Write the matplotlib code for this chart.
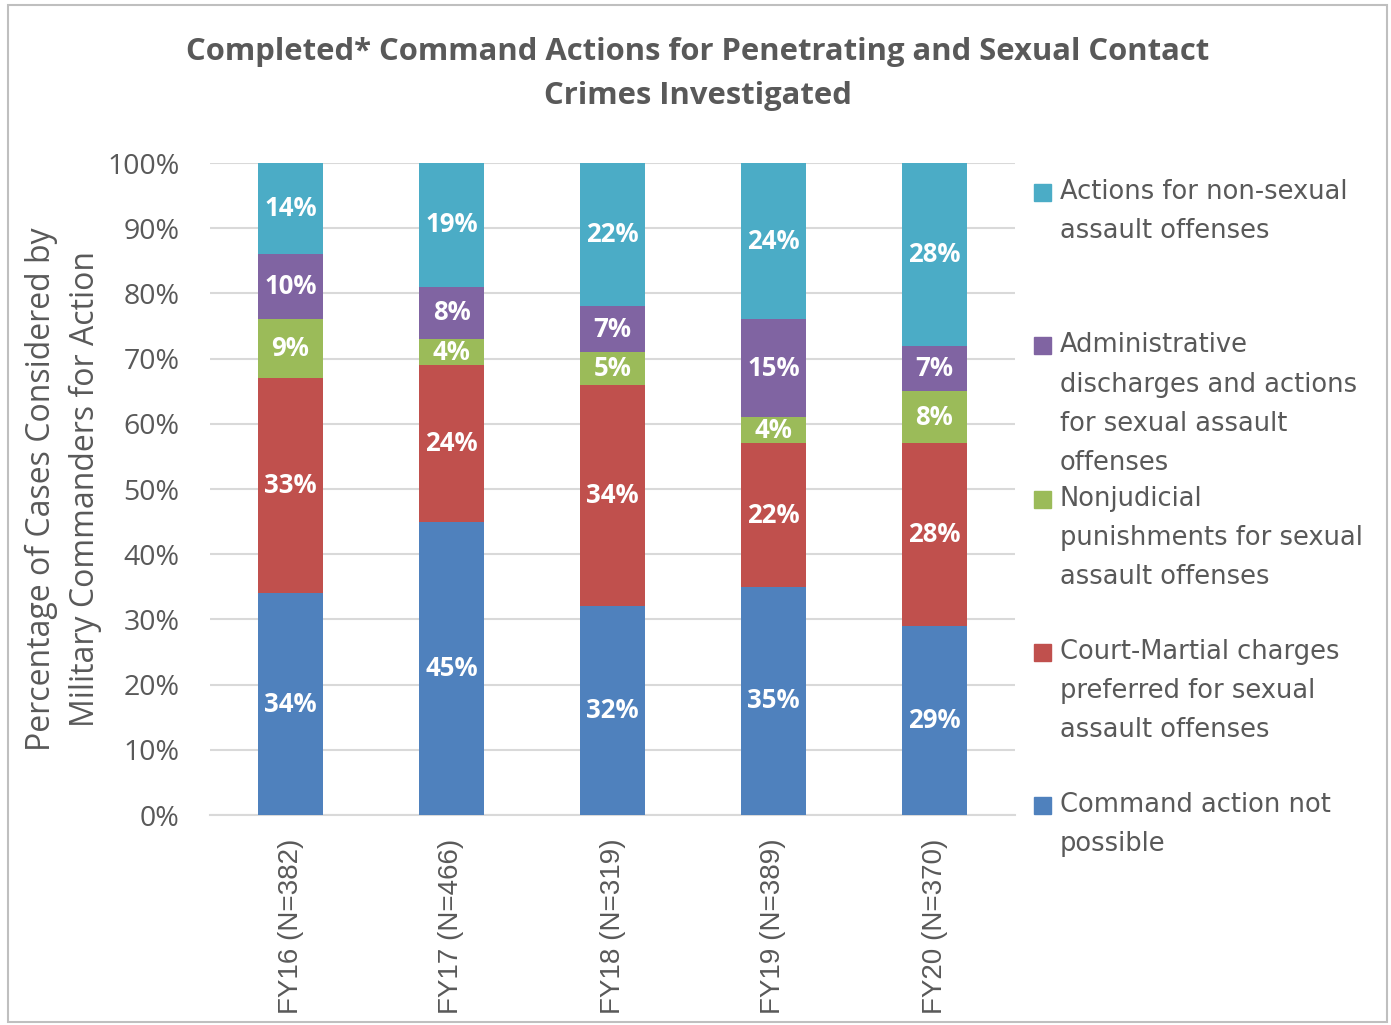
import matplotlib
matplotlib.use("Agg")
import matplotlib.pyplot as plt
import numpy as np
from matplotlib.patches import Rectangle

# ---- data ------------------------------------------------------------
years = ["FY16 (N=382)", "FY17 (N=466)", "FY18 (N=319)", "FY19 (N=389)", "FY20 (N=370)"]
not_possible = [34, 45, 32, 35, 29]
court_martial = [33, 24, 34, 22, 28]
nonjudicial = [9, 4, 5, 4, 8]
admin = [10, 8, 7, 15, 7]
non_sexual = [14, 19, 22, 24, 28]

series = [
    ("Command action not\npossible", not_possible, "#4F81BD"),
    ("Court-Martial charges\npreferred for sexual\nassault offenses", court_martial, "#C0504D"),
    ("Nonjudicial\npunishments for sexual\nassault offenses", nonjudicial, "#9BBB59"),
    ("Administrative\ndischarges and actions\nfor sexual assault\noffenses", admin, "#8064A2"),
    ("Actions for non-sexual\nassault offenses", non_sexual, "#4BACC6"),
]
yticks = np.arange(0, 101, 10)

GRAY = "#595959"
W, H = 1391, 1025
fig = plt.figure(figsize=(W / 100, H / 100), dpi=100)
ax = fig.add_axes([210 / W, 1 - 815 / H, 805 / W, 652 / H])

x = np.arange(len(years))
bottom = np.zeros(len(years))
for name, vals, col in series:
    vals = np.asarray(vals, dtype=float)
    bars = ax.bar(x, vals, 0.4, bottom=bottom, color=col, zorder=3)
    ax.bar_label(bars, labels=[f"{v:.0f}%" for v in vals], label_type="center",
                 color="white", fontsize=18.5, fontweight="bold", family="Open Sans")
    bottom += vals

ax.set_xlim(-0.5, len(years) - 0.5)
ax.set_ylim(0, 100)
ax.set_yticks(yticks)
ax.set_yticklabels([f"{v}%" for v in yticks], family="Open Sans", fontsize=20.5, color=GRAY)
ax.set_xticks(x)
ax.set_xticklabels(years, rotation=90, family="Liberation Sans", fontsize=20, color=GRAY)
ax.tick_params(axis="x", length=0, pad=17)
ax.tick_params(axis="y", length=0, pad=22)
ax.yaxis.grid(True, color="#D9D9D9", lw=1.5, zorder=0)
for s in ("top", "right", "left"):
    ax.spines[s].set_visible(False)
ax.spines["bottom"].set_color("#D9D9D9")
ax.spines["bottom"].set_linewidth(1.5)

ax.set_ylabel("Percentage of Cases Considered by\nMilitary Commanders for Action",
              family="Open Sans", fontsize=23, color=GRAY, linespacing=1.42)
ax.yaxis.set_label_coords(-0.1345, 0.5)

fig.text(698 / W, 1 - 74 / H,
         "Completed* Command Actions for Penetrating and Sexual Contact\nCrimes Investigated",
         ha="center", va="center", family="Open Sans", fontweight="bold",
         fontsize=22.3, color=GRAY, linespacing=1.62)

# legend, drawn by hand to keep Excel's even spacing
for i, (name, vals, col) in enumerate(series[::-1]):
    ytop = 1 - (179 + i * 153.3) / H
    fig.patches.append(Rectangle((1034 / W, ytop - 22 / H), 17 / W, 17 / H,
                                 transform=fig.transFigure, color=col))
    fig.text(1060 / W, ytop, name, ha="left", va="top", family="DejaVu Sans",
             fontsize=18.5, color=GRAY, linespacing=1.66)

fig.patches.append(Rectangle((8 / W, 3 / H), 1379 / W, 1017 / H, transform=fig.transFigure,
                             fill=False, ec="#BFBFBF", lw=1.5))

fig.savefig("out.png", dpi=100)
